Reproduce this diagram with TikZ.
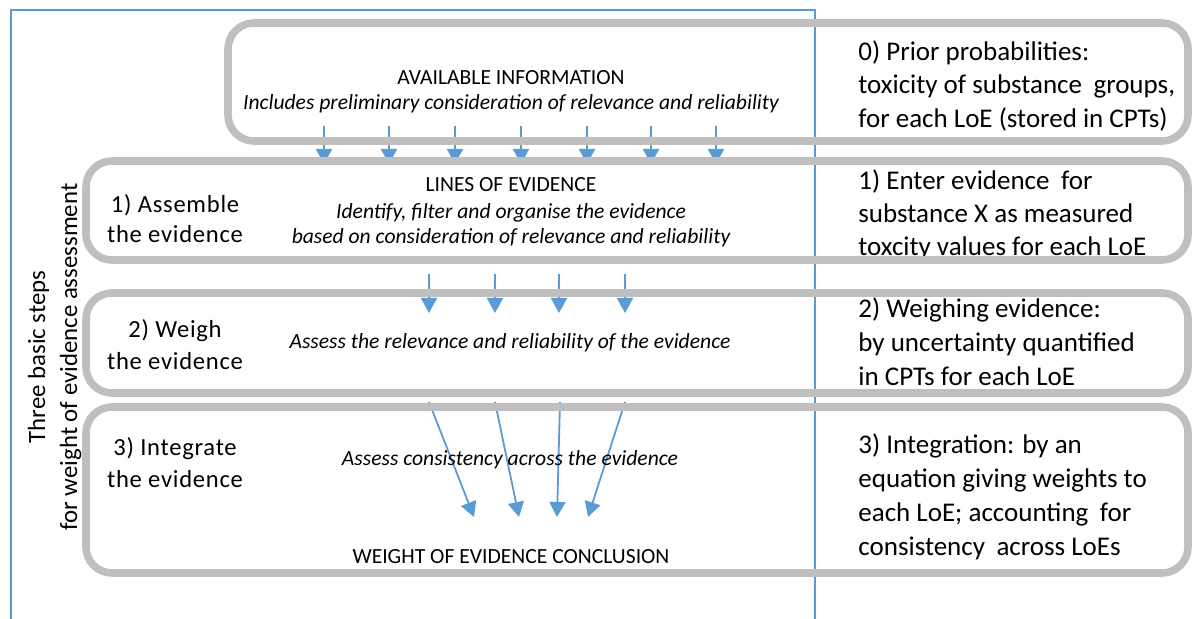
\documentclass[tikz,border=0pt]{standalone}
\usepackage{fontspec}
\setmainfont{Carlito}
\newfontfamily\spacedfont[LetterSpace=3]{Carlito}
\usetikzlibrary{arrows.meta}
\definecolor{framegray}{HTML}{BFBFBF}
\definecolor{flowblue}{HTML}{5B9BD5}
\pgfdeclarelayer{bg}
\pgfdeclarelayer{front}
\pgfsetlayers{bg,main,front}

\begin{document}
\begin{tikzpicture}[x=0.5pt,y=-0.5pt,
  stepframe/.style={draw=framegray, line width=3.8pt, rounded corners=13pt,
    outer sep=0pt, inner sep=0pt},
  flow/.style={draw=flowblue, line width=0.9pt,
    -{Triangle[width=8pt,length=7.5pt]}},
  midtext/.style={font=\fontsize{10.8}{13}\selectfont, anchor=base, inner sep=0pt},
  midital/.style={midtext, font=\fontsize{10.8}{13}\selectfont\itshape},
  steplabel/.style={font=\spacedfont\fontsize{12.3}{14}\selectfont, anchor=base, inner sep=0pt},
  sidetext/.style={font=\fontsize{13.5}{16}\selectfont, anchor=base west, inner sep=0pt},
  sidetitle/.style={font=\fontsize{12.4}{15}\selectfont, anchor=base, inner sep=0pt, rotate=90}]

\useasboundingbox (0,0) rectangle (1192,619);

% outer blue frame, open at the bottom
\draw[flowblue, line width=1pt] (11,640) -- (11,10) -- (815,10) -- (815,640);

% vertical title
\node[sidetitle] (t1) at (45,357) {Three basic steps};
\node[sidetitle] (t2) at (77,357) {for weight of evidence assessment};

% step frames (drawn on top of arrows and text)
\begin{pgfonlayer}{front}
  \node[stepframe, minimum width=480pt, minimum height=59pt] (b0) at (708,82) {};
  \node[stepframe, minimum width=551pt, minimum height=49.5pt] (b1) at (637,210.5) {};
  \node[stepframe, minimum width=551pt, minimum height=50pt] (b2) at (637,343) {};
  \node[stepframe, minimum width=551pt, minimum height=83pt] (b3) at (637,490) {};
\end{pgfonlayer}

% step 0
\node[midtext] (avail) at (511,85) {AVAILABLE INFORMATION};
\node[midital] (availsub) at (511,110) {Includes preliminary consideration of relevance and reliability};

% step 1
\node[steplabel] (s1a) at (175,213) {1) Assemble};
\node[steplabel] (s1b) at (175,243) {the evidence};
\node[midtext] (loe) at (511,192) {LINES OF EVIDENCE};
\node[midital] (loe1) at (511,219) {Identify, filter and organise the evidence};
\node[midital] (loe2) at (511,244) {based on consideration of relevance and reliability};

% step 2
\node[steplabel] (s2a) at (175,338) {2) Weigh};
\node[steplabel] (s2b) at (175,370) {the evidence};
\node[midital] (weigh) at (510,349) {Assess the relevance and reliability of the evidence};

% step 3
\node[steplabel] (s3a) at (175,455) {3) Integrate};
\node[steplabel] (s3b) at (175,487) {the evidence};
\node[midital] (integ) at (510,466) {Assess consistency across the evidence};
\node[midtext] (concl) at (511,563) {WEIGHT OF EVIDENCE CONCLUSION};

% right-hand column
\node[sidetext] (r0a) at (858,61) {0) Prior probabilities:};
\node[sidetext] (r0b) at (858,94) {toxicity of substance\hspace{0.2em} groups,};
\node[sidetext] (r0c) at (858,128) {for each LoE (stored in CPTs)};
\node[sidetext] (r1a) at (858,190) {1) Enter evidence\hspace{0.2em} for};
\node[sidetext] (r1b) at (858,223) {substance X as measured};
\node[sidetext] (r1c) at (858,256) {toxcity values for each LoE};
\node[sidetext] (r2a) at (858,318) {2) Weighing evidence:};
\node[sidetext] (r2b) at (858,352) {by uncertainty quantified};
\node[sidetext] (r2c) at (858,386) {in CPTs for each LoE};
\node[sidetext] (r3a) at (858,453) {3) Integration: by an};
\node[sidetext] (r3b) at (858,487) {equation giving weights to};
\node[sidetext] (r3c) at (858,521) {each LoE; accounting\hspace{0.2em} for};
\node[sidetext] (r3d) at (858,555) {consistency\hspace{0.2em} across LoEs};

% connectors, behind the frames
\begin{pgfonlayer}{bg}
  \foreach \i/\x in {1/324,2/389,3/455,4/521,5/587,6/651,7/716} {
    \coordinate (u\i) at (\x,126);
    \draw[flow] (u\i) -- ([yshift=-1.5pt]u\i |- b1.north);
  }
  \foreach \i/\x in {1/429,2/495,3/559,4/625} {
    \coordinate (v\i) at (\x,274);
    \draw[flow] (v\i) -- ([yshift=-10pt]v\i |- b2.north);
  }
  \foreach \i/\x/\e in {1/429/474,2/495/519,3/560/557,4/625/588} {
    \coordinate (w\i) at (\x,402);
    \coordinate (z\i) at (\e,517);
    \draw[flow] (w\i) -- (z\i);
  }
\end{pgfonlayer}

\end{tikzpicture}
\end{document}
